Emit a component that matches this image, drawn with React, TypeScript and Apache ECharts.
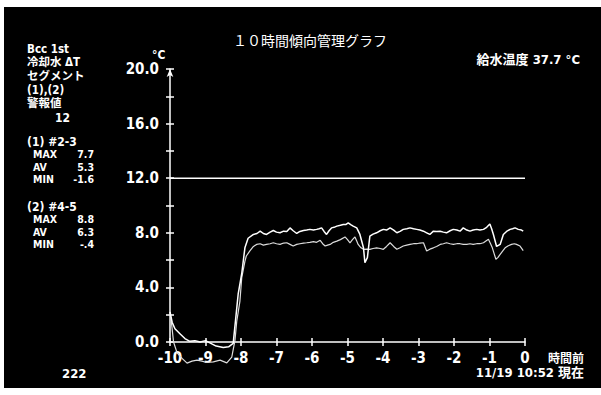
import React, { useEffect, useRef } from "react";
import * as echarts from "echarts";

// ---- data (hours before now, °C) ----
const X_TICKS = [-10, -9, -8, -7, -6, -5, -4, -3, -2, -1, 0];
const Y_LABELS = [0, 4, 8, 12, 16, 20];
const ALARM_LEVEL = 12;

// (1) #2-3 : lower trace
const SERIES1_POINTS: [number, number][] = [
  [-10, 2.2], [-9.95, 1.2], [-9.9, 0.0], [-9.8, -0.8], [-9.66, -1.2], [-9.52, -1.55], [-9.38, -1.4],
  [-9.24, -1.33], [-9.1, -1.4], [-8.97, -1.5], [-8.78, -1.45], [-8.59, -1.33], [-8.4, -1.53],
  [-8.26, -1.1], [-8.17, 0.12], [-8.12, 1.5], [-8.03, 3.0], [-7.98, 4.7], [-7.89, 5.9], [-7.85, 6.3],
  [-7.75, 6.67], [-7.65, 7.0], [-7.56, 7.15], [-7.46, 7.2], [-7.37, 7.1], [-7.28, 7.15], [-7.18, 7.2],
  [-7.09, 7.27], [-7.0, 7.2], [-6.9, 7.15], [-6.8, 7.25], [-6.71, 7.27], [-6.62, 7.15], [-6.53, 7.03],
  [-6.43, 7.15], [-6.34, 7.2], [-6.24, 7.25], [-6.15, 7.27], [-6.06, 7.3], [-5.96, 7.35], [-5.87, 7.3],
  [-5.77, 7.45], [-5.7, 7.2], [-5.63, 7.03], [-5.56, 7.1], [-5.49, 7.15], [-5.4, 7.3], [-5.3, 7.39],
  [-5.2, 7.5], [-5.07, 7.7], [-5.0, 7.5], [-4.93, 7.27], [-4.86, 7.5], [-4.79, 7.7], [-4.74, 7.4],
  [-4.7, 7.15], [-4.62, 6.9], [-4.55, 6.79], [-4.46, 6.8], [-4.37, 6.79], [-4.28, 6.85], [-4.18, 6.9],
  [-4.08, 6.85], [-3.99, 6.79], [-3.9, 7.0], [-3.8, 7.27], [-3.7, 7.0], [-3.61, 6.79], [-3.52, 6.9],
  [-3.43, 7.03], [-3.33, 7.1], [-3.24, 7.15], [-3.14, 7.2], [-3.05, 7.2], [-2.96, 7.25], [-2.86, 7.27],
  [-2.77, 6.67], [-2.68, 6.8], [-2.58, 6.9], [-2.49, 7.0], [-2.39, 7.15], [-2.3, 7.2], [-2.21, 7.27],
  [-2.11, 7.2], [-2.02, 7.15], [-1.92, 7.2], [-1.83, 7.2], [-1.74, 7.15], [-1.64, 7.15], [-1.55, 7.2],
  [-1.46, 7.15], [-1.36, 7.2], [-1.27, 7.2], [-1.17, 7.27], [-1.1, 7.4], [-1.03, 7.52], [-0.97, 7.2],
  [-0.92, 6.9], [-0.82, 6.06], [-0.76, 6.2], [-0.7, 6.42], [-0.62, 6.7], [-0.56, 6.9], [-0.47, 7.05],
  [-0.38, 7.15], [-0.3, 7.2], [-0.24, 7.15], [-0.14, 7.03], [-0.05, 6.7],
];

// (2) #4-5 : upper trace
const SERIES2_POINTS: [number, number][] = [
  [-10, 2.2], [-9.94, 1.45], [-9.86, 0.97], [-9.72, 0.61], [-9.58, 0.25], [-9.44, 0.05], [-9.3, 0.1],
  [-9.15, 0.0], [-9.0, 0.1], [-8.85, -0.1], [-8.7, -0.3], [-8.5, -0.4], [-8.35, -0.35], [-8.22, -0.1],
  [-8.08, 3.5], [-7.98, 5.0], [-7.89, 6.9], [-7.8, 7.6], [-7.65, 7.88], [-7.55, 7.95], [-7.46, 8.12],
  [-7.37, 7.95], [-7.28, 7.88], [-7.18, 8.05], [-7.09, 8.17], [-7.0, 8.05], [-6.9, 8.0], [-6.8, 8.12],
  [-6.71, 8.1], [-6.62, 8.36], [-6.53, 8.15], [-6.43, 7.95], [-6.34, 8.1], [-6.24, 8.17], [-6.15, 8.2],
  [-6.06, 8.25], [-5.96, 8.2], [-5.87, 8.25], [-5.8, 8.3], [-5.73, 8.36], [-5.66, 8.1], [-5.59, 7.88],
  [-5.52, 8.15], [-5.45, 8.36], [-5.38, 8.4], [-5.3, 8.49], [-5.2, 8.55], [-5.12, 8.61], [-5.05, 8.6],
  [-4.98, 8.73], [-4.91, 8.6], [-4.84, 8.49], [-4.74, 8.36], [-4.65, 7.88], [-4.55, 6.9], [-4.51, 5.82],
  [-4.44, 6.18], [-4.37, 7.76], [-4.28, 7.9], [-4.18, 8.0], [-4.08, 8.15], [-3.99, 8.25], [-3.9, 8.2],
  [-3.8, 8.36], [-3.7, 8.2], [-3.61, 8.0], [-3.52, 8.1], [-3.43, 8.25], [-3.33, 8.3], [-3.24, 8.36],
  [-3.14, 8.3], [-3.05, 8.25], [-2.96, 8.2], [-2.86, 8.12], [-2.77, 8.0], [-2.68, 7.88], [-2.58, 8.12],
  [-2.49, 8.1], [-2.39, 8.12], [-2.3, 8.05], [-2.21, 8.0], [-2.11, 8.15], [-2.02, 8.25], [-1.92, 8.2],
  [-1.83, 8.12], [-1.74, 8.36], [-1.64, 8.2], [-1.55, 8.12], [-1.46, 8.2], [-1.36, 8.25], [-1.27, 8.2],
  [-1.17, 8.25], [-1.08, 8.4], [-0.99, 8.65], [-0.94, 8.3], [-0.89, 7.88], [-0.8, 7.0], [-0.7, 7.15],
  [-0.61, 7.88], [-0.52, 8.1], [-0.42, 8.25], [-0.35, 8.3], [-0.28, 8.36], [-0.19, 8.25], [-0.1, 8.2],
  [-0.05, 8.12],
];

const HEADER_LINES = ["Bcc 1st", "冷却水 ΔT", "セグメント", "(1),(2)", "警報値"];
const ALARM_TEXT = "12";
const STATS_1 = { title: "(1) #2-3", rows: [["MAX", "7.7"], ["AV", "5.3"], ["MIN", "-1.6"]] };
const STATS_2 = { title: "(2) #4-5", rows: [["MAX", "8.8"], ["AV", "6.3"], ["MIN", "-.4"]] };
const TITLE = "１０時間傾向管理グラフ";
const FEED_TEMP = "給水温度 37.7 °C";
const PAGE_NO = "222";
const X_UNIT = "時間前";
const TIMESTAMP = "11/19 10:52 現在";

const NARROW = "'DejaVu Sans Condensed', 'Liberation Sans Narrow', 'Noto Sans CJK JP', sans-serif";
const CJK = "'Noto Sans CJK JP', 'DejaVu Sans Condensed', sans-serif";

function txt(x: number, y: number, text: string, size: number, align = "left", family = NARROW, weight = "bold") {
  return {
    type: "text",
    x,
    y,
    z: 10,
    style: {
      text,
      fill: "#fff",
      font: `${weight} ${size}px ${family}`,
      lineHeight: size,
      textAlign: align,
      align,
      textVerticalAlign: "top",
      verticalAlign: "top",
    },
  };
}

export default function App() {
  const ref = useRef<HTMLDivElement>(null);
  useEffect(() => {
    document.body.style.margin = "0";
    const chart = echarts.init(ref.current!, null, { renderer: "svg" });

    const graphics: any[] = [
      { type: "rect", shape: { x: 0, y: 0, width: 601, height: 7 }, style: { fill: "#fff" }, z: 20 },
      { type: "rect", shape: { x: 0, y: 0, width: 4, height: 395 }, style: { fill: "#fff" }, z: 20 },
      { type: "rect", shape: { x: 0, y: 388, width: 601, height: 7 }, style: { fill: "#fff" }, z: 20 },
    ];
    HEADER_LINES.forEach((t, i) => graphics.push(txt(27, 43 + i * 13.6, t, 11.5, "left", NARROW)));
    graphics.push(txt(55, 112, ALARM_TEXT, 12));
    const addStats = (s: typeof STATS_1, y0: number) => {
      graphics.push(txt(27, y0, s.title, 12));
      s.rows.forEach((r, i) => {
        graphics.push(txt(33, y0 + 12.5 + i * 12.8, r[0], 10.5));
        graphics.push(txt(94, y0 + 12.5 + i * 12.8, r[1], 10.5, "right"));
      });
    };
    addStats(STATS_1, 136);
    addStats(STATS_2, 201);
    graphics.push(txt(233, 33, TITLE, 14, "left", CJK, "normal"));
    graphics.push(txt(580, 53, FEED_TEMP, 13, "right"));
    graphics.push(txt(152, 49, "°C", 12));
    graphics.push(txt(584, 351, X_UNIT, 12, "right", CJK));
    graphics.push(txt(584, 366, TIMESTAMP, 13, "right"));
    graphics.push(txt(62, 367, PAGE_NO, 13));

    const axisFont = { color: "#fff", fontSize: 15, fontFamily: NARROW, fontWeight: "bold" as const };

    chart.setOption({
      animation: false,
      backgroundColor: "#000",
      grid: { left: 170, right: 76, top: 69, bottom: 53, containLabel: false },
      xAxis: [
        {
          type: "value",
          min: X_TICKS[0],
          max: X_TICKS[X_TICKS.length - 1],
          interval: 1,
          axisLine: { onZero: false, lineStyle: { color: "#fff", width: 1.5 } },
          axisTick: { show: true, length: 4, lineStyle: { color: "#fff", width: 1.5 } },
          axisLabel: { ...axisFont, margin: 8, formatter: (v: number) => String(v) },
          splitLine: { show: false },
        },
        {
          type: "value",
          position: "bottom",
          min: X_TICKS[0],
          max: X_TICKS[X_TICKS.length - 1],
          interval: 1,
          axisLine: { show: false, onZero: false },
          axisTick: { show: true, inside: true, length: 4, lineStyle: { color: "#fff", width: 1.5 } },
          axisLabel: { show: false },
          splitLine: { show: false },
        },
      ],
      yAxis: [
        {
          type: "value",
          position: "left",
          min: Y_LABELS[0],
          max: Y_LABELS[Y_LABELS.length - 1],
          interval: 2,
          axisLine: {
            show: true,
            onZero: false,
            lineStyle: { color: "#fff", width: 1.5 },
            symbol: ["none", "arrow"],
            symbolSize: [5, 8],
          },
          axisTick: { show: true, length: 4, lineStyle: { color: "#fff", width: 1.5 } },
          axisLabel: {
            ...axisFont,
            margin: 11,
            formatter: (v: number) => (Y_LABELS.includes(v) ? v.toFixed(1) : ""),
          },
          splitLine: { show: false },
        },
        {
          type: "value",
          position: "left",
          offset: 0,
          min: Y_LABELS[0],
          max: Y_LABELS[Y_LABELS.length - 1],
          interval: 2,
          axisLine: { show: false, onZero: false },
          axisTick: { show: true, inside: true, length: 4, lineStyle: { color: "#fff", width: 1.5 } },
          axisLabel: { show: false },
          splitLine: { show: false },
        },
      ],
      series: [
        {
          name: "alarm",
          type: "line",
          data: [[X_TICKS[0], ALARM_LEVEL], [X_TICKS[X_TICKS.length - 1], ALARM_LEVEL]],
          showSymbol: false,
          symbol: "none",
          lineStyle: { color: "#fff", width: 1.5 },
          silent: true,
        },
        {
          name: "(1) #2-3",
          type: "line",
          data: SERIES1_POINTS,
          showSymbol: false,
          symbol: "none",
          clip: false,
          lineStyle: { color: "#dcdcdc", width: 1.2 },
        },
        {
          name: "(2) #4-5",
          type: "line",
          data: SERIES2_POINTS,
          showSymbol: false,
          symbol: "none",
          clip: false,
          lineStyle: { color: "#fff", width: 1.5 },
        },
      ],
      graphic: graphics,
    });
    return () => chart.dispose();
  }, []);
  return <div ref={ref} style={{ position: "absolute", left: 0, top: 0, width: 601, height: 395 }} />;
}
